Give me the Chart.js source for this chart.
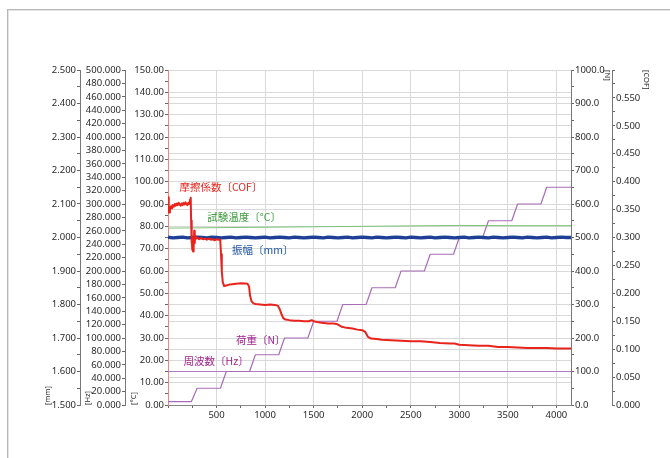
<!DOCTYPE html>
<html>
<head>
<meta charset="utf-8">
<script src="https://cdn.jsdelivr.net/npm/chart.js@4.4.1/dist/chart.umd.min.js"></script>
<style>
  html, body { margin: 0; padding: 0; background: #fff; }
  #wrap { position: relative; width: 670px; height: 458px; overflow: hidden; }
  #frame { position: absolute; left: 7px; top: 9px; width: 720px; height: 520px;
           border-left: 1px solid #b8b8b8; border-top: 1px solid #b8b8b8;
           box-shadow: inset 1px 1px 0 #e4e4e4; }
  canvas { position: absolute; left: 0; top: 0; }
</style>
</head>
<body>
<div id="wrap"><div id="frame"></div><canvas id="c" width="670" height="458"></canvas></div>
<script>
// ---- test data (time in s) ----
// friction coefficient
const cofTime = [0, 5, 10, 15, 20, 30, 40, 50, 60, 70, 80, 90, 100, 110, 120, 130, 140, 150, 160, 170,
  180, 190, 200, 210, 220, 228, 234, 238, 242, 246, 250, 254, 258, 262, 266, 270, 275, 280, 290, 300,
  320, 340, 360, 380, 400, 420, 440, 460, 480, 500, 520, 538, 546, 554, 564, 578, 600, 640, 700, 760,
  820, 835, 845, 860, 880, 900, 950, 1000, 1050, 1100, 1130, 1150, 1170, 1190, 1210, 1250, 1300, 1350,
  1400, 1450, 1480, 1500, 1550, 1600, 1650, 1700, 1740, 1760, 1790, 1820, 1900, 1950, 2000, 2030,
  2060, 2090, 2150, 2200, 2300, 2400, 2500, 2600, 2700, 2800, 2900, 2950, 3000, 3100, 3200, 3300,
  3400, 3500, 3600, 3700, 3800, 3900, 4000, 4150];
const cofValue = [0.345, 0.372, 0.355, 0.345, 0.350, 0.356, 0.352, 0.358, 0.355, 0.360, 0.357, 0.361,
  0.358, 0.362, 0.359, 0.357, 0.361, 0.358, 0.362, 0.359, 0.363, 0.360, 0.358, 0.362, 0.360, 0.368,
  0.371, 0.330, 0.290, 0.300, 0.278, 0.292, 0.275, 0.300, 0.283, 0.312, 0.290, 0.303, 0.298, 0.300,
  0.297, 0.299, 0.297, 0.298, 0.296, 0.298, 0.296, 0.297, 0.295, 0.297, 0.296, 0.296, 0.270, 0.240,
  0.220, 0.213, 0.214, 0.216, 0.217, 0.218, 0.217, 0.212, 0.196, 0.186, 0.182, 0.181, 0.180, 0.179,
  0.180, 0.179, 0.178, 0.172, 0.162, 0.155, 0.153, 0.152, 0.151, 0.151, 0.150, 0.150, 0.152, 0.150,
  0.148, 0.147, 0.146, 0.146, 0.145, 0.143, 0.140, 0.139, 0.137, 0.135, 0.134, 0.131, 0.122, 0.119,
  0.118, 0.117, 0.116, 0.115, 0.114, 0.114, 0.113, 0.111, 0.110, 0.110, 0.108, 0.107, 0.106, 0.106,
  0.104, 0.104, 0.103, 0.102, 0.102, 0.102, 0.101, 0.101];

// test temperature (°C)
const tempTime = [0, 500, 1000, 1500, 2000, 2500, 3000, 3500, 4150];
const tempValue = [79.2, 79.4, 79.6, 79.8, 80.0, 80.2, 80.4, 80.3, 80.3];

// stroke amplitude (mm)
const ampTime = [0, 50, 100, 150, 200, 250, 300, 350, 400, 450, 500, 550, 600, 650, 700, 750, 800,
  850, 900, 950, 1000, 1050, 1100, 1150, 1200, 1250, 1300, 1350, 1400, 1450, 1500, 1550, 1600, 1650,
  1700, 1750, 1800, 1850, 1900, 1950, 2000, 2050, 2100, 2150, 2200, 2250, 2300, 2350, 2400, 2450,
  2500, 2550, 2600, 2650, 2700, 2750, 2800, 2850, 2900, 2950, 3000, 3050, 3100, 3150, 3200, 3250,
  3300, 3350, 3400, 3450, 3500, 3550, 3600, 3650, 3700, 3750, 3800, 3850, 3900, 3950, 4000, 4050,
  4100, 4150];
const ampValue = [2.001, 1.999, 2.000, 2.001, 1.999, 2.000, 2.001, 2.000, 1.999, 2.001, 2.000, 1.999,
  2.000, 2.001, 1.999, 2.000, 2.001, 2.000, 1.999, 2.000, 2.001, 1.999, 2.000, 2.001, 2.000, 1.999,
  2.001, 2.000, 1.999, 2.000, 2.001, 2.000, 1.999, 2.001, 2.000, 1.999, 2.000, 2.001, 1.999, 2.000,
  2.001, 2.000, 1.999, 2.001, 2.000, 1.999, 2.000, 2.001, 2.000, 1.999, 2.001, 2.000, 1.999, 2.000,
  2.001, 1.999, 2.000, 2.001, 2.000, 1.999, 2.000, 2.001, 1.999, 2.000, 2.001, 2.000, 1.999, 2.001,
  2.000, 1.999, 2.000, 2.001, 2.000, 1.999, 2.001, 2.000, 1.999, 2.000, 2.001, 1.999, 2.000, 2.001,
  2.000, 2.000];

// load (N), stepped every 300 s
const loadTime = [0, 240, 300, 540, 600, 840, 900, 1140, 1200, 1440, 1500, 1740, 1800, 2040, 2100,
  2340, 2400, 2640, 2700, 2940, 3000, 3240, 3300, 3540, 3600, 3840, 3900, 4150];
const loadValue = [10, 10, 50, 50, 100, 100, 150, 150, 200, 200, 250, 250, 300, 300, 350, 350,
  400, 400, 450, 450, 500, 500, 550, 550, 600, 600, 650, 650];

// frequency (Hz)
const freqTime = [0, 4150];
const freqValue = [50, 50];

const pts = (xs, ys) => xs.map((x, i) => ({ x: x, y: ys[i] }));

const FONT = "'Noto Sans', 'Noto Sans CJK JP', sans-serif";
const tickFont = { family: FONT, size: 9.5 };
const titleFont = { family: FONT, size: 7.5 };
const GRID = '#d9d9d9';
const TICKC = '#666';
const TXT = '#2a2a2a';
const NONE = 'rgba(0,0,0,0)';
const r3 = v => Math.round(v * 1000);

function vScale(o) {
  return {
    type: 'linear',
    position: o.pos,
    weight: o.weight,
    min: o.min,
    max: o.max,
    ticks: { count: o.count, autoSkip: false, font: tickFont, color: TXT, padding: 1, callback: o.label },
    grid: {
      drawOnChartArea: !!o.grid,
      color: o.grid ? (ctx => (ctx.tick && o.grid(ctx.tick.value)) ? GRID : NONE) : NONE,
      tickColor: TICKC,
      tickLength: 3
    },
    border: { color: o.border || '#777', width: 1 },
    title: { display: true, text: o.title, align: o.pos === 'left' ? 'start' : 'end',
             font: titleFont, color: TXT, padding: { top: o.tpad, bottom: 0 } },
    afterFit: s => { s.width = o.width; }
  };
}

const notesPlugin = {
  id: 'notes',
  afterDatasetsDraw(chart) {
    const { ctx, scales } = chart;
    const notes = [
      { text: '摩擦係数〔COF〕', t: 118, c: 97.6, color: '#e5281f' },
      { text: '試験温度〔°C〕', t: 405, c: 84.2, color: '#3f9a3f' },
      { text: '振幅〔mm〕', t: 660, c: 69.4, color: '#1f56a6' },
      { text: '荷重〔N〕', t: 700, c: 29.1, color: '#a4238f' },
      { text: '周波数〔Hz〕', t: 160, c: 19.8, color: '#a4238f' }
    ];
    ctx.save();
    ctx.font = "10.5px 'Noto Sans CJK JP', 'Noto Sans', sans-serif";
    ctx.textAlign = 'left';
    ctx.textBaseline = 'middle';
    notes.forEach(n => {
      ctx.fillStyle = n.color;
      ctx.fillText(n.text, scales.x.getPixelForValue(n.t), scales.yC.getPixelForValue(n.c));
    });
    ctx.restore();
  }
};

new Chart(document.getElementById('c'), {
  type: 'line',
  data: {
    datasets: [
      { label: '摩擦係数', data: pts(cofTime, cofValue), yAxisID: 'yCOF', borderColor: '#e8231c',
        borderWidth: 2, order: 0 },
      { label: '振幅', data: pts(ampTime, ampValue), yAxisID: 'yMM', borderColor: '#1d3f96',
        borderWidth: 3.4, order: 1 },
      { label: '試験温度', data: pts(tempTime, tempValue), yAxisID: 'yC', borderColor: '#7cc27a',
        borderWidth: 1, order: 2 },
      { label: '荷重', data: pts(loadTime, loadValue), yAxisID: 'yN', borderColor: '#a86cb8',
        borderWidth: 1.2, order: 3 },
      { label: '周波数', data: pts(freqTime, freqValue), yAxisID: 'yHz', borderColor: '#b07cc0',
        borderWidth: 1.2, order: 4 }
    ]
  },
  options: {
    responsive: false,
    animation: false,
    parsing: true,
    elements: { point: { radius: 0 }, line: { tension: 0, borderJoinStyle: 'round' } },
    layout: { padding: { left: 42, right: 13, top: 70, bottom: 31 } },
    plugins: { legend: { display: false }, tooltip: { enabled: false } },
    scales: {
      x: {
        type: 'linear', position: 'bottom', min: 0, max: 4150,
        ticks: { stepSize: 250, includeBounds: false, autoSkip: false, maxRotation: 0, padding: 2,
                 font: tickFont, color: TXT,
                 callback: v => (v > 0 && v % 500 === 0) ? String(v) : '' },
        grid: { color: ctx => (ctx.tick && ctx.tick.value > 0 && ctx.tick.value % 500 === 0) ? GRID : NONE,
                tickColor: TICKC, tickLength: 3 },
        border: { color: '#888' },
        afterFit: s => { s.height = 22; }
      },
      yMM: vScale({ pos: 'left', weight: 3, min: 1.5, max: 2.5, count: 21, width: 38, title: '[mm]', tpad: 1,
        label: v => (r3(v) % 100 === 0) ? v.toFixed(3) : '' }),
      yHz: vScale({ pos: 'left', weight: 2, min: 0, max: 500, count: 26, width: 45, title: '[Hz]', tpad: 3,
        label: v => v.toFixed(3) }),
      yC: vScale({ pos: 'left', weight: 1, min: 0, max: 150, count: 31, width: 43, title: '[°C]', tpad: 4,
        border: '#e98585',
        label: v => (Math.round(v) % 10 === 0) ? v.toFixed(2) : '',
        grid: v => Math.round(v) % 10 === 0 }),
      yN: vScale({ pos: 'right', weight: 1, min: 0, max: 1000, count: 21, width: 41, title: '[N]', tpad: 0,
        label: v => (Math.round(v) % 100 === 0) ? v.toFixed(1) : '',
        grid: v => Math.round(v) % 100 === 0 }),
      yCOF: vScale({ pos: 'right', weight: 2, min: 0, max: 0.6, count: 25, width: 45, title: '[COF]', tpad: 6,
        label: v => (r3(v) % 50 === 0 && r3(v) < 600) ? v.toFixed(3) : '',
        grid: v => r3(v) % 50 === 0 })
    }
  },
  plugins: [notesPlugin]
});
</script>
</body>
</html>
